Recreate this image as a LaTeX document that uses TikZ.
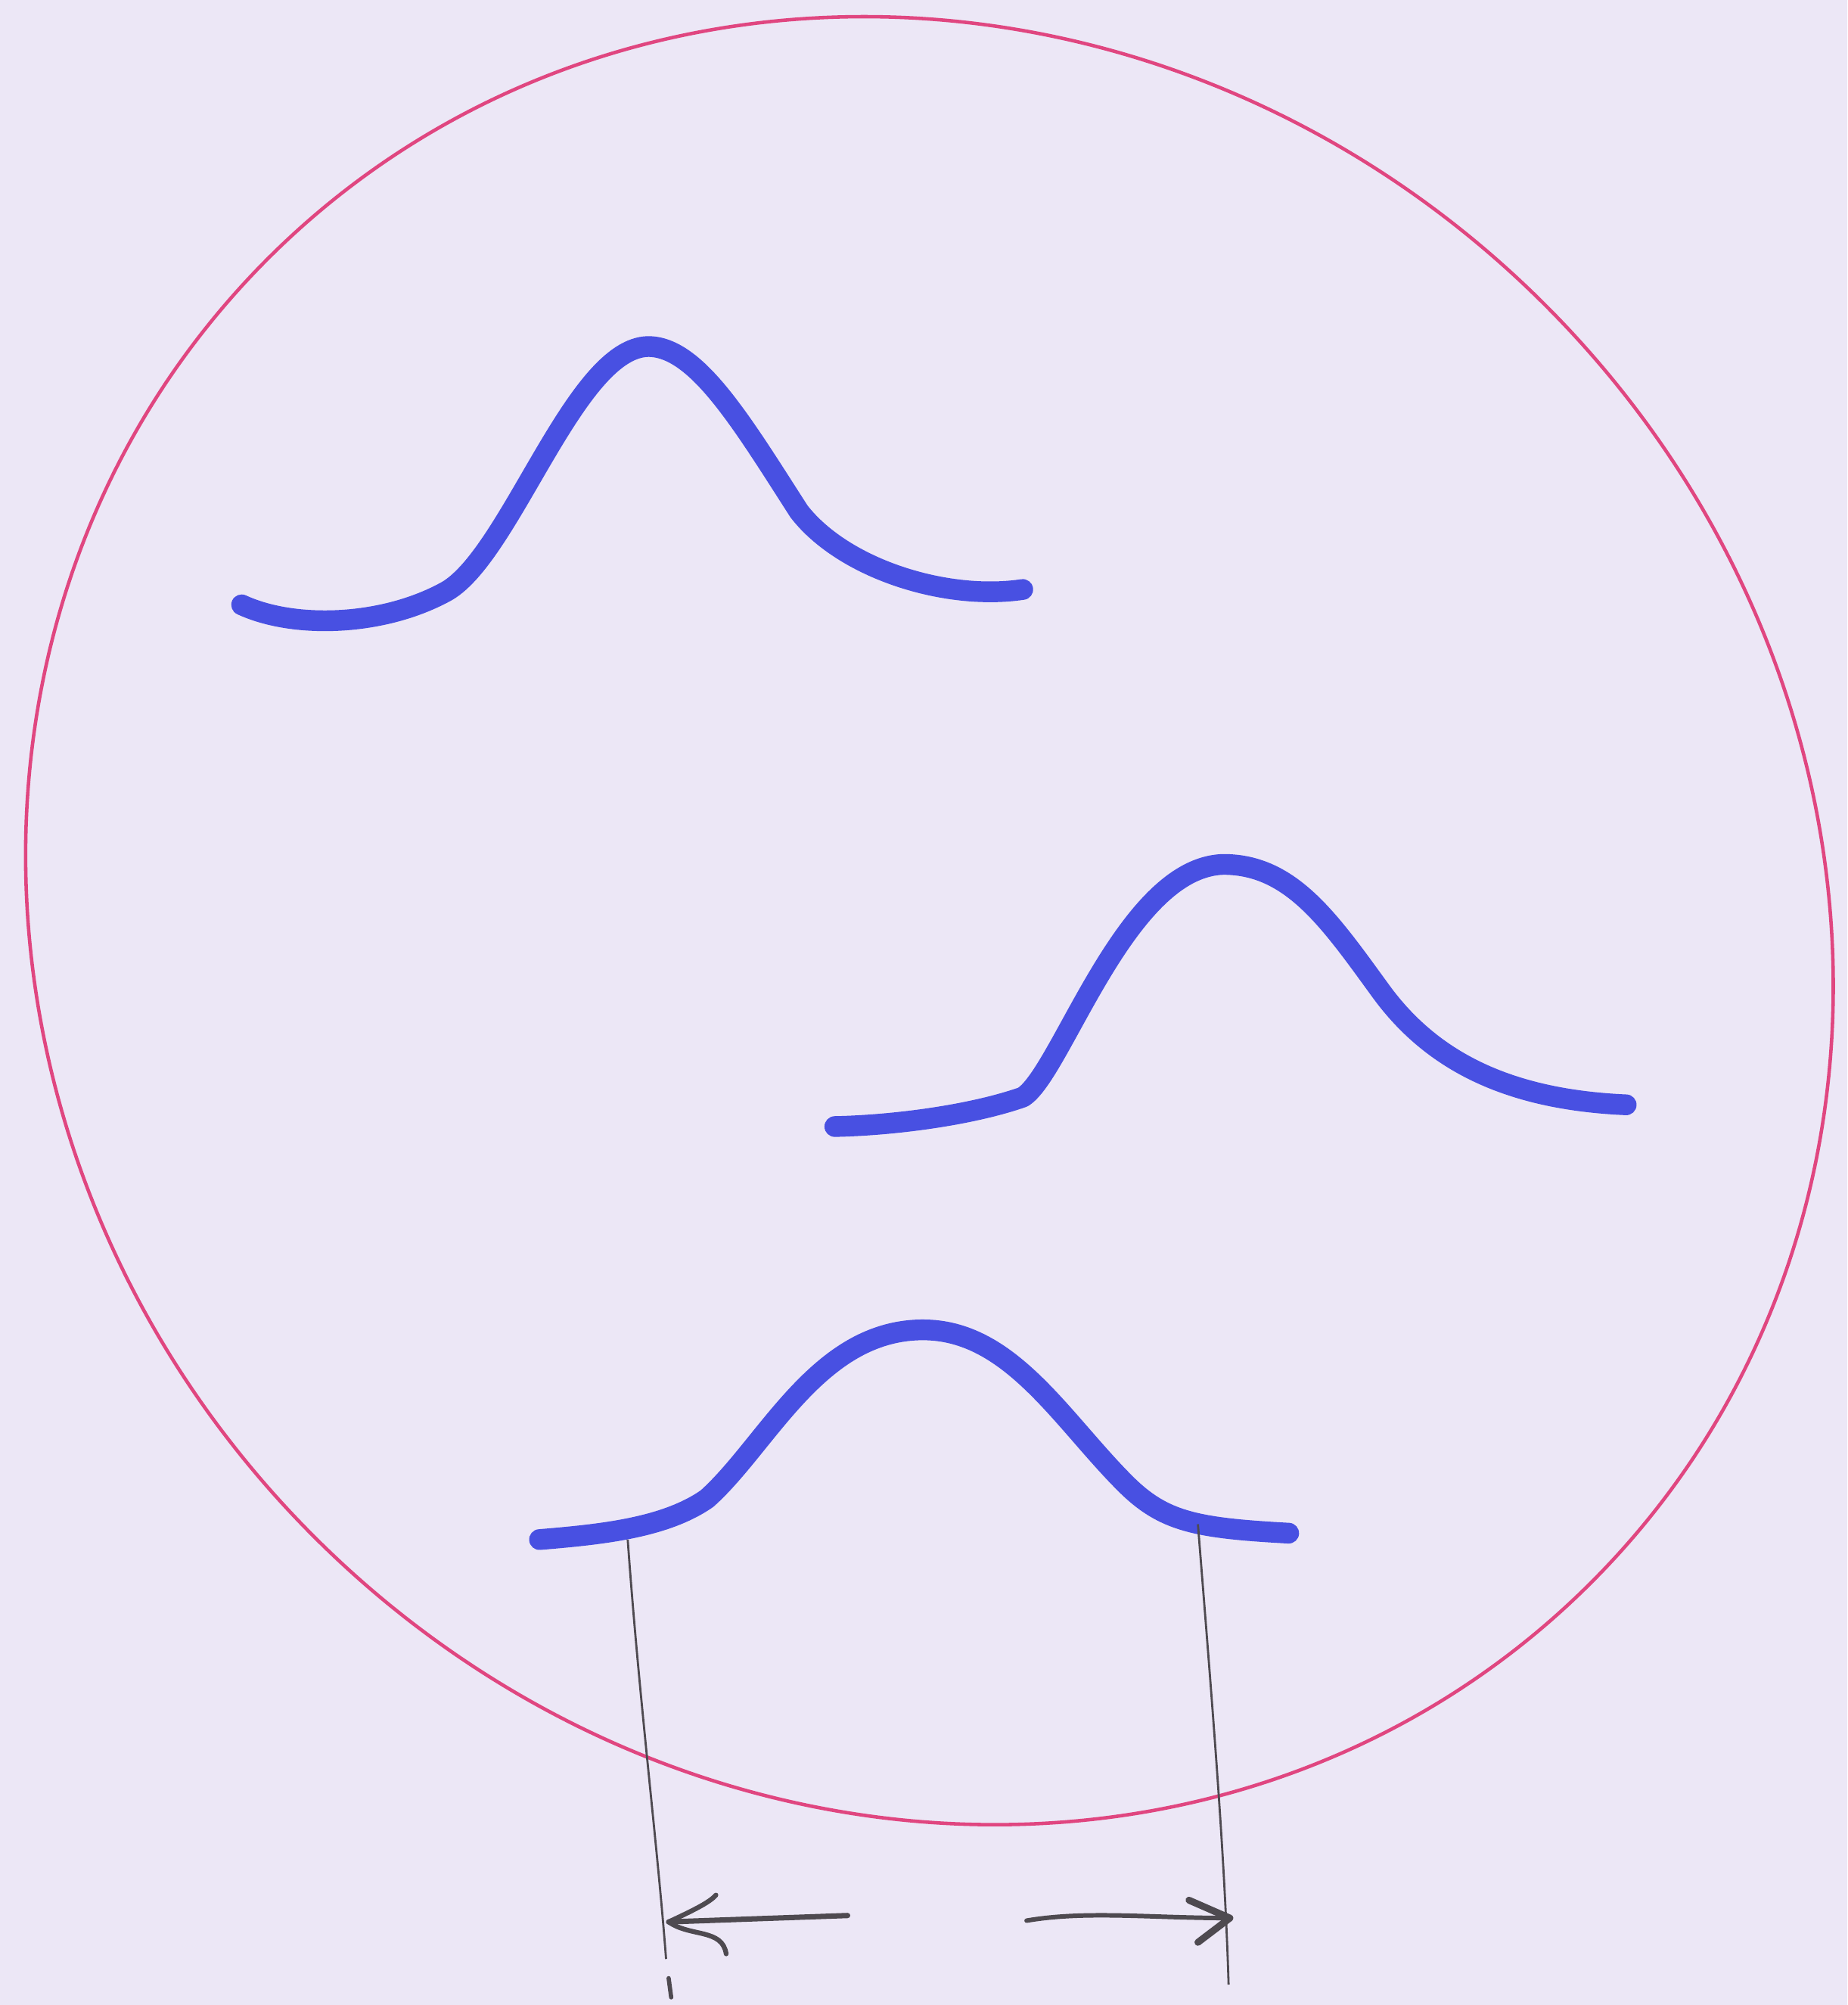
\documentclass[tikz,border=0pt]{standalone}
\definecolor{paper}{RGB}{236,231,246}
\definecolor{ring}{RGB}{224,70,128}
\definecolor{ink}{RGB}{72,80,226}
\definecolor{pencil}{RGB}{78,74,80}
\tikzset{
  bell/.style={ink, line width=7.8pt, line cap=round, line join=round},
  rim/.style={ring, line width=1.3pt},
  guide/.style={pencil, line width=0.8pt},
  shaft/.style={pencil, line width=2pt, line cap=round, line join=round}
}
\begin{document}
\begin{tikzpicture}[x=0.0169cm, y=-0.0169cm]
\fill[paper] (0,0) rectangle (1445,1568);
\useasboundingbox (0,0) rectangle (1445,1568);
% outer ring (slightly oblique ellipse)
\coordinate (c) at (727,720);
\draw[rim, rotate around={-45:(c)}] (c) ellipse [x radius=732, y radius=681];
% curves
\draw[bell] (189,473) .. controls (230,492) and (300,490) .. (350,462)
  .. controls (400,432) and (450,272) .. (507,271)
  .. controls (545,271) and (580,330) .. (625,400)
  .. controls (660,445) and (740,470) .. (800,461);
\draw[bell] (653,881) .. controls (700,880) and (760,872) .. (800,858)
  .. controls (830,840) and (880,678) .. (957,676)
  .. controls (1010,676) and (1040,720) .. (1080,775)
  .. controls (1120,830) and (1180,860) .. (1272,864);
\draw[bell] (422,1204) .. controls (470,1200) and (520,1195) .. (553,1172)
  .. controls (600,1130) and (640,1040) .. (722,1040)
  .. controls (790,1040) and (830,1110) .. (880,1160)
  .. controls (910,1190) and (935,1195) .. (1008,1199);
% guide lines
\coordinate (la) at (491,1204);
\coordinate (lb) at (521,1532);
\coordinate (ra) at (937,1192);
\coordinate (rb) at (961,1552);
\draw[guide] (la) .. controls (500,1330) and (514,1440) .. (lb);
\draw[guide, line width=1.6pt, line cap=round] (523,1547) -- (525,1562);
\draw[guide] (ra) .. controls (948,1330) and (958,1450) .. (rb);
% left arrow
\coordinate (a1) at (663,1498);
\coordinate (a2) at (523,1503);
\draw[shaft] (a1) -- (a2);
\draw[shaft, line width=1.8pt] (560,1482) .. controls (555,1488) and (540,1495) .. (a2)
  .. controls (540,1515) and (565,1508) .. (568,1528);
% right arrow
\coordinate (b1) at (803,1502);
\coordinate (b2) at (962,1500);
\draw[shaft, line width=1.7pt] (b1) .. controls (850,1494) and (900,1500) .. (b2);
\draw[shaft, line width=2.6pt] (930,1486) -- (b2) -- (937,1519);
\end{tikzpicture}
\end{document}
